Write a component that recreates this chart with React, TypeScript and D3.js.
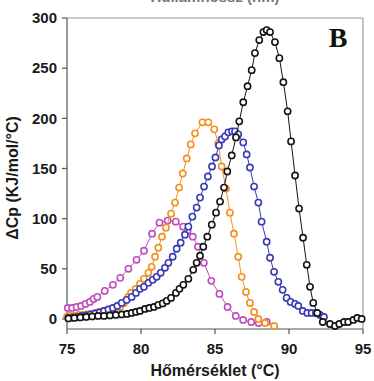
import React from "react";
import * as d3 from "d3";

// Temperature grid (°C) and heat-capacity values (kJ/mol/°C) for each sample
const magentaT = [75.05,75.35,75.65,75.95,76.25,76.55,76.8,77.05,77.55,78.1,78.6,79.15,79.7,80.2,80.75,81.25,81.8,82.35,82.85,83.15,83.5,83.85,84.25,84.75,85.3,85.85,86.4,86.9,87.45,87.95,88.5];
const magentaV = [11,11,12,13,15,17,20,22,28,34,41,50,59,68,85,96,98,97,92,88,82,72,56,38,25,12,3,-1,-3,-4,-3];

const orangeT = [75.0,75.2,75.47,75.77,76.03,76.33,76.62,76.89,77.16,77.45,77.72,78.02,78.31,78.58,78.85,79.14,79.32,79.64,79.93,80.2,80.5,80.72,80.95,81.17,81.42,81.69,82.03,82.3,82.57,82.82,83.09,83.36,83.65,84.15,84.55,84.95,85.22,85.45,85.74,86.01,86.28,86.57,86.8,87.09,87.36,87.64,87.93,88.38,89.0];
const orangeV = [2,3,3,4,4,4.5,5,6,7,8,9,10,11,12,16,22,26,30,35,40,46,52,62,71,82,91,105,116,131,145,160,174,185,196,196,189,175,152,130,106,85,62,42,27,16,7,0,-4,-7];

const blueT = [75.1,75.4,75.7,76.0,76.3,76.6,76.9,77.2,77.5,77.8,78.1,78.4,78.7,79.03,79.37,79.66,79.93,80.2,80.5,80.79,81.06,81.33,81.62,81.85,82.14,82.41,82.68,82.97,83.2,83.47,83.76,83.99,84.26,84.52,84.8,85.03,85.27,85.45,85.68,85.9,86.15,86.35,86.57,86.91,87.14,87.36,87.64,87.93,88.15,88.49,88.72,88.99,89.28,89.57,89.84,90.11,90.41,90.63,90.93,91.24,91.53,91.82,92.09,92.36];
const blueV = [1,1.5,2,3,3.5,4.5,5.5,6.5,8,9.5,11,13,16,19,22,26,30,32,36,39,42,46,51,56,62,70,76,84,92,102,111,121,132,142,152,161,173,179,182,186,187,187,184,176,164,151,132,116,97,77,61,47,37,29,21,17,15,13,8,6,6,6,4,2];

const blackT = [75.1,75.5,75.9,76.3,76.7,77.1,77.5,77.9,78.3,78.7,79.05,79.37,79.66,79.93,80.27,80.56,80.88,81.17,81.47,81.74,82.03,82.36,82.6,82.86,83.2,83.53,83.76,83.99,84.21,84.48,84.78,85.07,85.34,85.61,85.83,86.13,86.42,86.64,86.91,87.2,87.48,87.7,87.99,88.27,88.49,88.72,89.05,89.35,89.62,89.91,90.14,90.41,90.68,90.95,91.2,91.42,91.64,91.91,92.28,92.77,93.11,93.4,93.72,94.0,94.35,94.61,94.91];
const blackV = [0.5,1,1.5,2,2.5,3,3,3.5,4,4.5,5,6,7,8,10,11,12,14,15.5,18,21,26,30,34,40,49,56,63,72,82,94,106,117,131,147,163,181,197,216,232,248,265,278,286,288,286,276,260,236,207,177,143,110,81,54,32,16,6,-3,-5,-7,-5,-3,-3,-1,1,0];

const xTicks = [75, 80, 85, 90, 95];
const yTicks = [0, 50, 100, 150, 200, 250, 300];

const seriesList = [
  { name: "magenta", color: "#bf4dbf", t: magentaT, v: magentaV },
  { name: "orange", color: "#f5901e", t: orangeT, v: orangeV },
  { name: "blue", color: "#3a3ab4", t: blueT, v: blueV },
  { name: "black", color: "#141414", t: blackT, v: blackV },
];

const W = 374;
const H = 381;
const left = 67, right = 363, top = 18, bottom = 329;

export default function App() {
  const x = d3.scaleLinear().domain([75, 95]).range([left, right]);
  const y = d3.scaleLinear().domain([-10, 300]).range([bottom, top]);
  const font = "'Liberation Sans', Arial, sans-serif";

  return (
    <div style={{ position: "absolute", left: 0, top: 0 }}>
      <svg width={W} height={H} style={{ display: "block", background: "#fff" }}>
        {/* partially visible heading above the panel */}
        <text x={215} y={2} textAnchor="middle" fontFamily={font} fontWeight="bold" fontSize={15} fill="#777">
          Hullámhossz (nm)
        </text>

        {/* frame */}
        <line x1={left} x2={right} y1={top} y2={top} stroke="#9a9a9a" strokeWidth={1.2} />
        <line x1={right} x2={right} y1={top} y2={bottom} stroke="#9a9a9a" strokeWidth={1.2} />
        <line x1={left} x2={left} y1={top} y2={bottom} stroke="#555" strokeWidth={1.2} />
        <line x1={left} x2={right} y1={bottom} y2={bottom} stroke="#555" strokeWidth={1.2} />

        {/* y axis ticks */}
        {yTicks.map((t) => (
          <g key={"y" + t}>
            <line x1={left - 5} x2={left} y1={y(t)} y2={y(t)} stroke="#555" strokeWidth={1.2} />
            <text x={57} y={y(t)} dy="0.35em" textAnchor="end" fontFamily={font} fontWeight="bold" fontSize={15} fill="#1a1a1a">
              {t}
            </text>
          </g>
        ))}

        {/* x axis ticks */}
        {xTicks.map((t) => (
          <g key={"x" + t}>
            <line x1={x(t)} x2={x(t)} y1={bottom} y2={bottom + 5} stroke="#555" strokeWidth={1.2} />
            <text x={x(t)} y={354} textAnchor="middle" fontFamily={font} fontWeight="bold" fontSize={15} fill="#1a1a1a">
              {t}
            </text>
          </g>
        ))}

        {/* data series */}
        {seriesList.map((s) => {
          const pts = s.t.map((t, i) => [t, s.v[i]] as [number, number]);
          const path = d3.line<[number, number]>().x((d) => x(d[0])).y((d) => y(d[1]))(pts) || "";
          return (
            <g key={s.name}>
              <path d={path} fill="none" stroke={s.color} strokeWidth={1} />
              {pts.map((d, i) => (
                <circle key={i} cx={x(d[0])} cy={y(d[1])} r={3.1} fill="#fff" stroke={s.color} strokeWidth={1.6} />
              ))}
            </g>
          );
        })}

        {/* panel letter */}
        <text x={338} y={47} textAnchor="middle" fontFamily="'Liberation Serif', 'Times New Roman', serif" fontWeight="bold" fontSize={28} fill="#111">
          B
        </text>

        {/* axis titles */}
        <text x={215} y={376} textAnchor="middle" fontFamily={font} fontWeight="bold" fontSize={16} fill="#1a1a1a">
          Hőmérséklet (°C)
        </text>
        <text transform="translate(17.5,178) rotate(-90)" textAnchor="middle" fontFamily={font} fontWeight="bold" fontSize={16} fill="#1a1a1a">
          ΔCp (KJ/mol/°C)
        </text>
      </svg>
    </div>
  );
}
